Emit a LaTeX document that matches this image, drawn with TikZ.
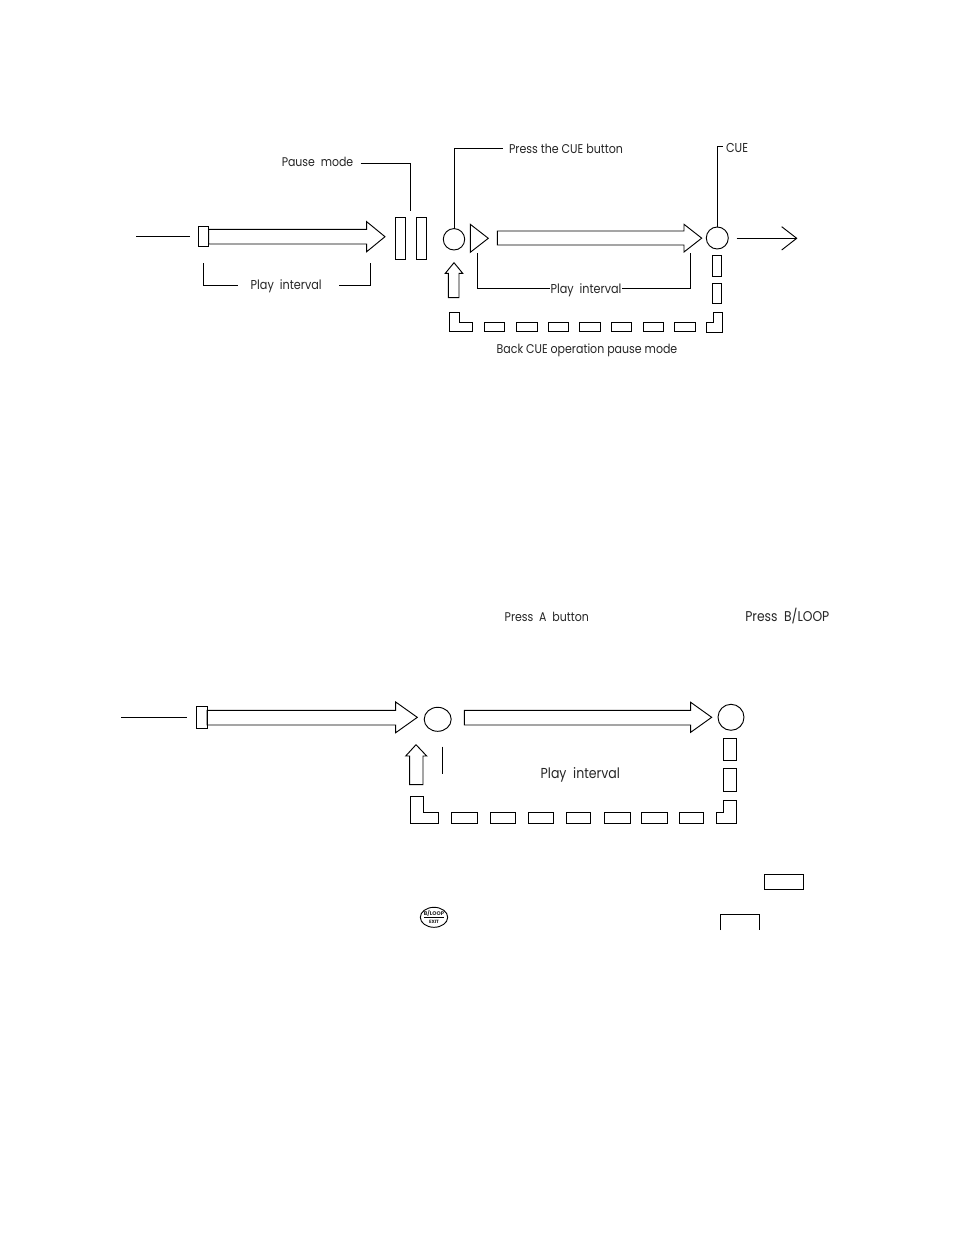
\documentclass[tikz,border=0pt]{standalone}
\usepackage{fontspec}
\setmainfont{Poppins}
\usetikzlibrary{calc,shapes.geometric}
\tikzset{
  ln/.style={draw=black,line width=0.7pt,line join=miter},
  boxn/.style={ln,rectangle,inner sep=0pt,outer sep=0pt,fill=white},
  lab/.style={inner sep=0pt,outer sep=0pt,text=black!85,font=\fontsize{8}{10}\selectfont}
}
% name, x1, y1, x2, y2
\newcommand{\rectn}[5]{\node[boxn,minimum width={(#4-#2)*0.75pt},minimum height={(#5-#3)*0.75pt}] (#1) at ({(#2+#4)/2},{(#3+#5)/2}) {};}
% name, cx, cy, rx, ry
\newcommand{\roundn}[5]{\node[ln,ellipse,inner sep=0pt,outer sep=0pt,minimum width={2*#4*0.75pt},minimum height={2*#5*0.75pt}] (#1) at (#2,#3) {};}
% name, cx, cy, width, text
\newcommand{\labn}[5]{\node[lab] (#1) at (#2,#3) {\scalebox{1}[1.15]{\resizebox{\dimexpr #4pt*3/4\relax}{!}{#5}}};}
% horizontal block arrow: x0, shaft y1, shaft y2, head x, head y1, head y2, tip x
\newcommand{\harrow}[7]{\draw[ln] (#1,#2) -- (#4,#2) -- (#4,#5) -- (#7,{(#5+#6)/2}) -- (#4,#6) -- (#4,#3) -- (#1,#3) -- cycle;}
% upward block arrow: tip x, tip y, head y, head x1, head x2, shaft x1, shaft x2, bottom
\newcommand{\uarrow}[8]{\draw[ln] (#1,#2) -- (#5,#3) -- (#7,#3) -- (#7,#8) -- (#6,#8) -- (#6,#3) -- (#4,#3) -- cycle;}
\begin{document}
\begin{tikzpicture}[x=0.75pt,y=-0.75pt]
\useasboundingbox[fill=white] (0,0) rectangle (954,1235);

%%% Top diagram
\coordinate (t1a) at (136,236.7);
\coordinate (t1b) at (190,236.7);
\draw[ln] (t1a) -- (t1b);
\rectn{tstart}{198.3}{226.3}{208.7}{246.3}
\harrow{208.7}{229.3}{244}{366.7}{221.7}{251.7}{385}
\rectn{tp1}{395.3}{217.3}{405.7}{259.3}
\rectn{tp2}{416.3}{217.3}{426.7}{259.3}
\labn{tpause}{317.5}{162}{71.5}{Pause\ \ mode}
\coordinate (tpa) at (360.7,163.3);
\coordinate (tpb) at (410,163.3);
\coordinate (tpc) at (410,210.7);
\draw[ln] (tpa) -- (tpb) -- (tpc);

\labn{tplay1}{286.2}{286.5}{71}{Play\ \ interval}
\coordinate (b1a) at (203.3,263.3);
\coordinate (b1b) at (203.3,285.3);
\coordinate (b1c) at (238.3,285.3);
\draw[ln] (b1a) -- (b1b) -- (b1c);
\coordinate (b1d) at (339,285.3);
\coordinate (b1e) at (370.3,285.3);
\coordinate (b1f) at (370.3,263.3);
\draw[ln] (b1d) -- (b1e) -- (b1f);

\roundn{tc1}{454}{239.3}{10.7}{10.7}
\labn{tpress}{566}{149}{114}{Press the CUE button}
\coordinate (lc1) at (454,148.3);
\coordinate (lc2) at (502.7,148.3);
\draw[ln] (tc1.north) -- (lc1) -- (lc2);
\draw[ln] (470.3,224.3) -- (488.3,238.3) -- (470.3,252.3) -- cycle;
\harrow{497.3}{231}{245}{684}{224.3}{252}{701.7}
\roundn{tc2}{717.3}{238}{11}{11}
\labn{tcue}{737}{148}{22}{CUE}
\coordinate (lq1) at (717.3,146);
\coordinate (lq2) at (723.3,146);
\draw[ln] (tc2.north) -- (lq1) -- (lq2);
\coordinate (oa) at (736.7,238.3);
\coordinate (ob) at (796.7,238.3);
\draw[ln] (oa) -- (ob);
\draw[ln] (781.7,226.7) -- (ob) -- (781.7,250);
\uarrow{454}{262.7}{273.3}{445.3}{462.7}{448.3}{459}{297.7}
\labn{tplay2}{586}{290.3}{71}{Play\ \ interval}
\coordinate (b2a) at (477.7,253.3);
\coordinate (b2b) at (477.7,288.3);
\coordinate (b2c) at (550,288.3);
\coordinate (b2f) at (622,288.3);
\coordinate (b2d) at (690.3,288.3);
\coordinate (b2e) at (690.3,252.7);
\draw[ln] (b2a) -- (b2b) -- (b2c);
\draw[ln] (b2f) -- (b2d) -- (b2e);
\rectn{tv1}{712.3}{255.3}{721.7}{276}
\rectn{tv2}{712.3}{283.3}{721.7}{303.3}
\draw[ln] (449.3,312) -- (459.3,312) -- (459.3,322) -- (472.3,322) -- (472.3,331.3) -- (449.3,331.3) -- cycle;
\rectn{th1}{484.3}{322.3}{504}{331}
\rectn{th2}{516.3}{322.3}{537.3}{331}
\rectn{th3}{548.3}{322.3}{568.7}{331}
\rectn{th4}{579.7}{322.3}{600.3}{331}
\rectn{th5}{611.7}{322.3}{631.7}{331}
\rectn{th6}{643.3}{322.3}{663.3}{331}
\rectn{th7}{674.3}{322.3}{695}{331}
\draw[ln] (722.7,312.3) -- (713.3,312.3) -- (713.3,322.3) -- (706.7,322.3) -- (706.7,332) -- (722.7,332) -- cycle;
\labn{tback}{587}{350.5}{180.6}{Back CUE operation pause mode}

%%% Lower diagram
\labn{pa}{546.8}{617}{84.3}{Press\ \ A\ \ button}
\labn{pb}{787.3}{616}{84}{Press\ \ B/LOOP}
\coordinate (l1a) at (121,717.3);
\coordinate (l1b) at (186.7,717.3);
\draw[ln] (l1a) -- (l1b);
\rectn{lstart}{196.3}{706.3}{207}{728}
\harrow{207}{710.3}{725}{395.7}{702}{732.7}{417.3}
\roundn{lc1n}{437.7}{719.3}{13.5}{12}
\harrow{464.3}{710.3}{725}{690.7}{702.3}{732.3}{711.7}
\roundn{lc2n}{731}{717.3}{13}{13}
\coordinate (tka) at (442.3,746.7);
\coordinate (tkb) at (442.3,773.7);
\draw[ln] (tka) -- (tkb);
\uarrow{416}{744.7}{756}{405.7}{426.7}{409.7}{423}{784.7}
\labn{lplay}{580.3}{775}{79.3}{Play\ \ interval}
\rectn{lv1}{723.3}{738.3}{736}{760.7}
\rectn{lv2}{723.3}{768.3}{736}{791.7}
\draw[ln] (410.3,796.3) -- (423,796.3) -- (423,812) -- (438.3,812) -- (438.3,823.3) -- (410.3,823.3) -- cycle;
\rectn{lh1}{451.7}{812.5}{477}{823}
\rectn{lh2}{490.3}{812.5}{515.5}{823}
\rectn{lh3}{528.7}{812.5}{553.3}{823}
\rectn{lh4}{566.7}{812.5}{590.7}{823}
\rectn{lh5}{604}{812.5}{630}{823}
\rectn{lh6}{641.7}{812.5}{667.7}{823}
\rectn{lh7}{679.7}{812.5}{703.3}{823}
\draw[ln] (736,800.7) -- (723.3,800.7) -- (723.3,812) -- (716.3,812) -- (716.3,823.3) -- (736,823.3) -- cycle;

%%% Key symbols
\rectn{key1}{764.3}{874.3}{803.7}{889.7}
\coordinate (k2a) at (720.3,930);
\coordinate (k2b) at (720.3,914.3);
\coordinate (k2c) at (759.7,914.3);
\coordinate (k2d) at (759.7,930);
\draw[ln] (k2a) -- (k2b) -- (k2c) -- (k2d);
\roundn{btn}{434}{917.3}{13.7}{10}
\node[lab,font=\bfseries\fontsize{4}{4}\selectfont] (btnt) at (434,913.5) {B/LOOP};
\node[lab,font=\bfseries\fontsize{3.5}{4}\selectfont] (btnb) at (434,921.5) {EXIT};
\coordinate (bl1) at (424,917.5);
\coordinate (bl2) at (444,917.5);
\draw[ln] (bl1) -- (bl2);
\end{tikzpicture}
\end{document}
